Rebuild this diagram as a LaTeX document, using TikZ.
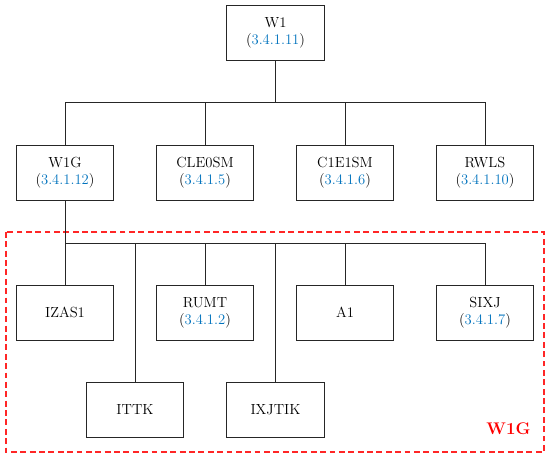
\documentclass[tikz,border=0pt]{standalone}
\usepackage{tikz}
\usetikzlibrary{calc}

\definecolor{refblue}{RGB}{0,114,189}

\begin{document}
\begin{tikzpicture}[x=0.03cm,y=-0.03cm,
  box/.style={draw=black!85, line width=0.7pt, minimum width=2.92cm, minimum height=1.65cm,
    align=center, inner sep=0pt, font=\fontsize{12.5}{14.5}\selectfont},
  link/.style={draw=black!85, line width=0.7pt},
  group/.style={draw=red!85, line width=0.9pt, dash pattern=on 5pt off 3pt}]

\useasboundingbox (0,0) rectangle (550,459);

% top node
\node[box] (w1) at (275.5,33) {W1\\(\textcolor{refblue}{3.4.1.11})};

% second row
\node[box] (w1g)    at (65,172.5)  {W1G\\(\textcolor{refblue}{3.4.1.12})};
\node[box] (cle0sm) at (205,172.5) {CLE0SM\\(\textcolor{refblue}{3.4.1.5})};
\node[box] (c1e1sm) at (345,172.5) {C1E1SM\\(\textcolor{refblue}{3.4.1.6})};
\node[box] (rwls)   at (485,172.5) {RWLS\\(\textcolor{refblue}{3.4.1.10})};

% group box
\coordinate (g1) at (6,232);
\coordinate (g2) at (544,452);
\draw[group] (g1) rectangle (g2);
\node[text=red, font=\Large\bfseries] (w1glabel) at (508.5,429) {W1G};

% third and fourth row
\node[box] (izas1) at (65,312.5)  {IZAS1};
\node[box] (rumt)  at (205,312.5) {RUMT\\(\textcolor{refblue}{3.4.1.2})};
\node[box] (a1)    at (345,312.5) {A1};
\node[box] (sixj)  at (485,312.5) {SIXJ\\(\textcolor{refblue}{3.4.1.7})};
\node[box] (ittk)   at (135,409.5)   {ITTK};
\node[box] (ixjtik) at (275.5,409.5) {IXJTIK};

% bus lines
\coordinate (b1) at (275.5,102);
\coordinate (b2) at (65,243);

\draw[link] (w1.south) -- (b1);
\draw[link] (w1g.north) -- (w1g.north |- b1) -- (rwls.north |- b1) -- (rwls.north);
\draw[link] (cle0sm.north) -- (cle0sm.north |- b1);
\draw[link] (c1e1sm.north) -- (c1e1sm.north |- b1);

\draw[link] (w1g.south) -- (izas1.north);
\draw[link] (b2) -- (sixj.north |- b2) -- (sixj.north);
\draw[link] (rumt.north) -- (rumt.north |- b2);
\draw[link] (a1.north) -- (a1.north |- b2);
\draw[link] (ittk.north) -- (ittk.north |- b2);
\draw[link] (ixjtik.north) -- (ixjtik.north |- b2);

\end{tikzpicture}
\end{document}
